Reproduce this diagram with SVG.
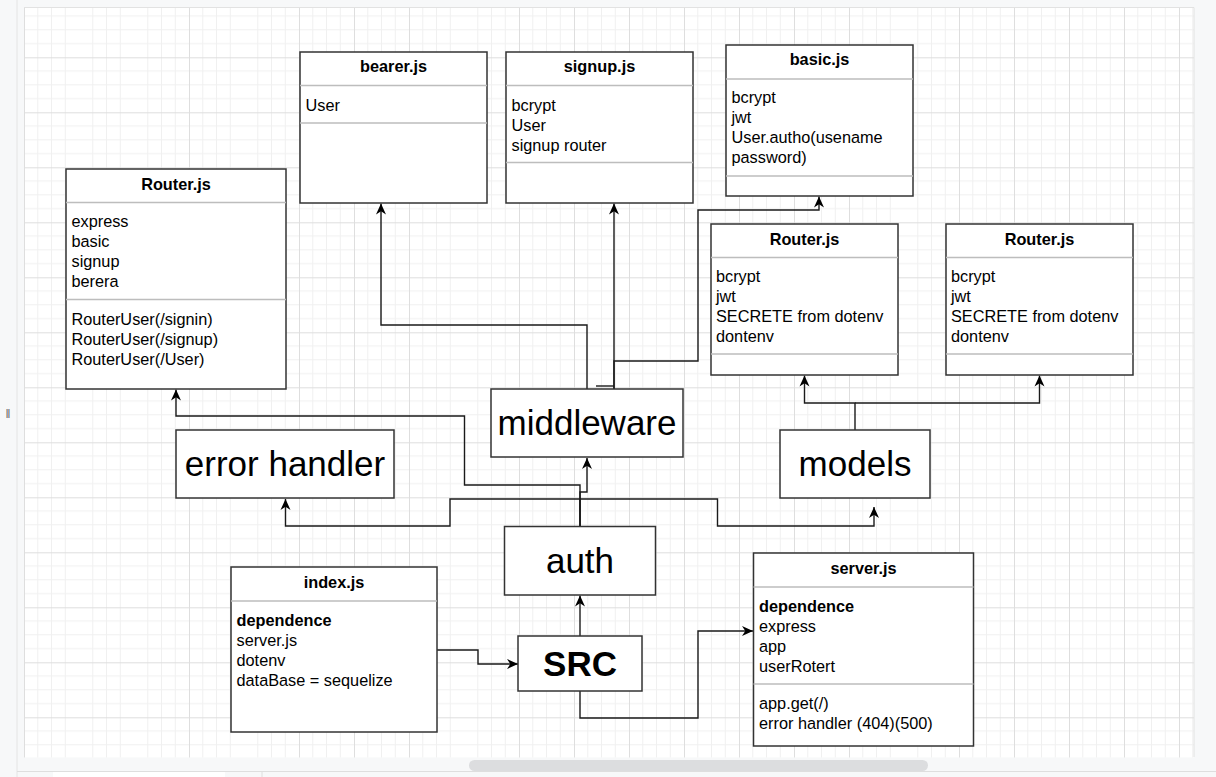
<svg xmlns="http://www.w3.org/2000/svg" width="1216" height="777" viewBox="0 0 1216 777">
<style>
.box{fill:#fff;stroke:#333;stroke-width:1.5}
.div{stroke:#bdbdbd;stroke-width:1.5}
.t{font-family:"Liberation Sans",Arial,sans-serif;font-size:16.3px;fill:#000}
.b{font-weight:bold}
.big{font-family:"Liberation Sans",Arial,sans-serif;font-size:35px;fill:#000}
.c{text-anchor:middle}
.edge{fill:none;stroke:#1a1a1a;stroke-width:1.4}
.arr{marker-end:url(#ah)}
</style>
<defs>
<marker id="ah" viewBox="0 0 11 11" refX="11" refY="5.5" markerWidth="11" markerHeight="11" markerUnits="userSpaceOnUse" orient="auto">
<path d="M0,0.5 L11,5.5 L0,10.5 L3.3,5.5 Z" fill="#000"/>
</marker>
<pattern id="grid" patternUnits="userSpaceOnUse" x="24" y="2.3" width="55" height="55">
<path d="M13.75,0V55M27.5,0V55M41.25,0V55M0,13.75H55M0,27.5H55M0,41.25H55" stroke="#f0f0f0" stroke-width="1" fill="none"/>
<path d="M0.5,0V55M0,0.5H55" stroke="#dedede" stroke-width="1" fill="none"/>
</pattern>
</defs>
<g id="chrome">
<rect x="0" y="0" width="1216" height="777" fill="#f7f8f9"/>
<rect x="24" y="7.5" width="1170" height="750" fill="#fff"/>
<rect x="24" y="7.5" width="1170" height="750" fill="url(#grid)"/>
<line x1="24" y1="7.5" x2="1194" y2="7.5" stroke="#e2e2e2"/>
<line x1="1194" y1="7.5" x2="1194" y2="757" stroke="#e2e2e2"/>
<line x1="17" y1="0" x2="17" y2="777" stroke="#e4e4e4"/>
<rect x="469" y="760" width="459" height="11" rx="5.5" fill="#dcdddf"/>
<line x1="17" y1="771.5" x2="1216" y2="771.5" stroke="#dedede"/>
<rect x="53" y="772" width="172" height="5" fill="#fff"/>
<line x1="262" y1="772" x2="262" y2="777" stroke="#dedede"/>
<text x="8" y="418" font-family="Liberation Sans,sans-serif" font-size="12" fill="#666" text-anchor="middle">‖</text>
</g>
<g id="connectors">
<path class="edge arr" d="M587,389V325H381V203.5"/>
<path class="edge arr" d="M614,389V203.5"/>
<path class="edge" d="M596,386H614"/>
<path class="edge arr" d="M614,389V361H698V210H819V196.5"/>
<path class="edge arr" d="M855,430V403H804.5V375.5"/>
<path class="edge arr" d="M855,403H1039.5V375.5"/>
<path class="edge arr" d="M580,526V492H587V458"/>
<path class="edge arr" d="M580,526V485H464.5V416H176V389.5"/>
<path class="edge arr" d="M580,526V499H450V526H285.5V499"/>
<path class="edge arr" d="M580,499H717.5V526H874V507"/>
<path class="edge arr" d="M580,636V595.5"/>
<path class="edge arr" d="M437,650H478V664H518"/>
<path class="edge arr" d="M580,691V718H698V631H753"/>
</g>
<g id="router-left">
<rect class="box" x="66" y="169" width="220" height="220"/>
<line class="div" x1="66" y1="202.5" x2="286" y2="202.5"/>
<line class="div" x1="66" y1="299.5" x2="286" y2="299.5"/>
<text class="t b c" x="176" y="190">Router.js</text>
<text class="t" x="71.5" y="226.5">express</text>
<text class="t" x="71.5" y="246.5">basic</text>
<text class="t" x="71.5" y="266.5">signup</text>
<text class="t" x="71.5" y="286.5">berera</text>
<text class="t" x="71.5" y="325">RouterUser(/signin)</text>
<text class="t" x="71.5" y="345">RouterUser(/signup)</text>
<text class="t" x="71.5" y="365">RouterUser(/User)</text>
</g>
<g id="bearer">
<rect class="box" x="300" y="52" width="187" height="151"/>
<line class="div" x1="300" y1="85.5" x2="487" y2="85.5"/>
<line class="div" x1="300" y1="123" x2="487" y2="123"/>
<text class="t b c" x="393.5" y="72">bearer.js</text>
<text class="t" x="305.5" y="110.5">User</text>
</g>
<g id="signup">
<rect class="box" x="506" y="52" width="187" height="151"/>
<line class="div" x1="506" y1="85.5" x2="693" y2="85.5"/>
<line class="div" x1="506" y1="162.5" x2="693" y2="162.5"/>
<text class="t b c" x="599.5" y="72">signup.js</text>
<text class="t" x="511.5" y="110.5">bcrypt</text>
<text class="t" x="511.5" y="130.5">User</text>
<text class="t" x="511.5" y="150.5">signup router</text>
</g>
<g id="basic">
<rect class="box" x="726" y="45" width="187" height="151"/>
<line class="div" x1="726" y1="79" x2="913" y2="79"/>
<line class="div" x1="726" y1="176" x2="913" y2="176"/>
<text class="t b c" x="819.5" y="65">basic.js</text>
<text class="t" x="731.5" y="103">bcrypt</text>
<text class="t" x="731.5" y="123">jwt</text>
<text class="t" x="731.5" y="143">User.autho(usename</text>
<text class="t" x="731.5" y="163">password)</text>
</g>
<g id="router-mid">
<rect class="box" x="711" y="224" width="187" height="151"/>
<line class="div" x1="711" y1="257.5" x2="898" y2="257.5"/>
<line class="div" x1="711" y1="354" x2="898" y2="354"/>
<text class="t b c" x="804.5" y="245">Router.js</text>
<text class="t" x="716" y="282">bcrypt</text>
<text class="t" x="716" y="302">jwt</text>
<text class="t" x="716" y="322">SECRETE from dotenv</text>
<text class="t" x="716" y="342">dontenv</text>
</g>
<g id="router-right">
<rect class="box" x="946" y="224" width="187" height="151"/>
<line class="div" x1="946" y1="257.5" x2="1133" y2="257.5"/>
<line class="div" x1="946" y1="354" x2="1133" y2="354"/>
<text class="t b c" x="1039.5" y="245">Router.js</text>
<text class="t" x="951" y="282">bcrypt</text>
<text class="t" x="951" y="302">jwt</text>
<text class="t" x="951" y="322">SECRETE from dotenv</text>
<text class="t" x="951" y="342">dontenv</text>
</g>
<g id="middleware">
<rect class="box" x="491" y="389" width="192" height="68"/>
<text class="big c" x="587" y="435">middleware</text>
</g>
<g id="error-handler">
<rect class="box" x="176" y="430" width="218" height="68"/>
<text class="big c" x="285" y="476">error handler</text>
</g>
<g id="models">
<rect class="box" x="780" y="430" width="150" height="68"/>
<text class="big c" x="855" y="476">models</text>
</g>
<g id="auth">
<rect class="box" x="504.5" y="526.5" width="151" height="68.5"/>
<text class="big c" x="580" y="573">auth</text>
</g>
<g id="index">
<rect class="box" x="231" y="567" width="206" height="165"/>
<line class="div" x1="231" y1="601" x2="437" y2="601"/>
<text class="t b c" x="334" y="587.5">index.js</text>
<text class="t b" x="236.5" y="625.5">dependence</text>
<text class="t" x="236.5" y="645.5">server.js</text>
<text class="t" x="236.5" y="665.5">dotenv</text>
<text class="t" x="236.5" y="685.5">dataBase = sequelize</text>
</g>
<g id="src">
<rect class="box" x="518" y="636" width="124" height="55"/>
<text class="big b c" x="580" y="675.5">SRC</text>
</g>
<g id="server">
<rect class="box" x="753.5" y="553" width="220" height="193"/>
<line class="div" x1="753.5" y1="587" x2="973.5" y2="587"/>
<line class="div" x1="753.5" y1="684" x2="973.5" y2="684"/>
<text class="t b c" x="863.5" y="574">server.js</text>
<text class="t b" x="759" y="611.5">dependence</text>
<text class="t" x="759" y="631.5">express</text>
<text class="t" x="759" y="651.5">app</text>
<text class="t" x="759" y="671.5">userRotert</text>
<text class="t" x="759" y="708.5">app.get(/)</text>
<text class="t" x="759" y="728.5">error handler (404)(500)</text>
</g>
</svg>
